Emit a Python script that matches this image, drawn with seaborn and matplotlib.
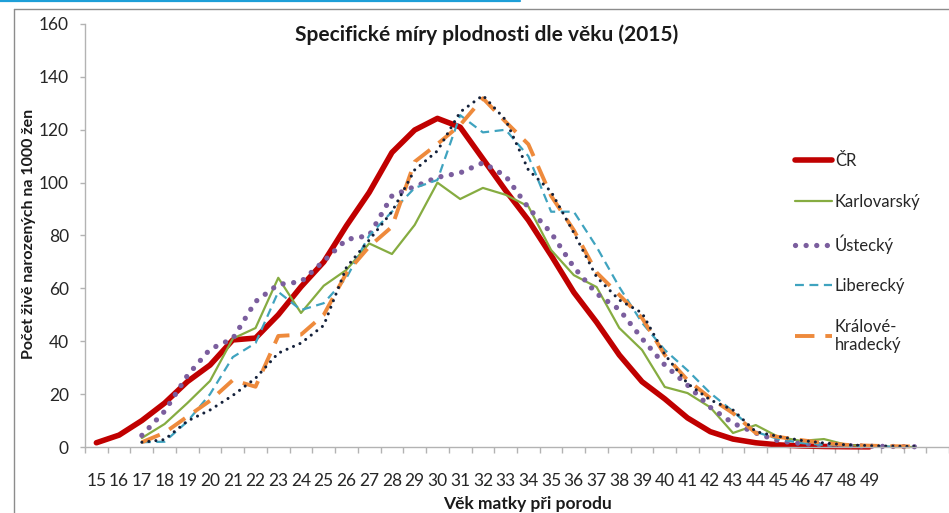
import numpy as np
import pandas as pd
import matplotlib.pyplot as plt
import seaborn as sns

nan = np.nan

# ages 15..51 (50 and 51 have no label on the original axis)
ages = list(range(15, 52))
age_labels = [str(a) for a in range(15, 50)] + ['', '']

cr = [1.6, 4.5, 10, 16.6, 24.7, 31, 40.5, 41.2, 50, 60.6, 70, 83.7, 96.3, 111.4, 119.9,
      124.3, 121, 109, 97, 85.8, 72.5, 58.5, 47.2, 34.8, 24.7, 18.2, 11, 5.8, 3, 1.6,
      0.8, 0.4, 0.2, 0.1, 0.05, nan, nan]
karlovarsky = [nan, nan, 3.4, 8.7, 16.6, 25, 41, 45, 64, 50.7, 61, 67, 77, 73, 84,
               100, 93.8, 98, 95.4, 91, 74.5, 65, 60.5, 45, 36.7, 22.7, 20.4, 15, 5.3, 8.3,
               3.8, 2.3, 3, 0.8, 0.3, 0.1, 0]
ustecky = [nan, nan, 4.4, 13.5, 27, 37, 41, 55, 61.5, 62.5, 70.3, 78.5, 80, 95, 98.5,
           102, 103.7, 107.5, 102.5, 90.5, 81, 68, 58, 52, 41, 31, 23.4, 15, 9, 5.3,
           2.3, 1.3, 0.8, 0.5, 0.3, 0.2, 0.1]
liberecky = [nan, nan, 1.8, 2, 9.6, 20, 34, 39.3, 58.7, 51.8, 54.4, 64, 80, 89, 98,
             101, 125.5, 119, 120, 110, 89, 89, 75.7, 60.5, 47, 36.7, 29, 20.4, 13.5, 5.7,
             3, 1.5, 0.8, 0.4, 0.2, 0.1, 0]
kralovehradecky = [nan, nan, 1.8, 5.4, 11.5, 17.5, 25.3, 22.8, 42, 42.5, 50, 65.8, 75.8, 83.3, 107.9,
                   114.6, 121.8, 131.9, 123, 114.5, 95, 82, 66, 57.5, 48.8, 34.8, 25.3, 18.5, 12.8, 5.3,
                   3.8, 2.6, 1.5, 0.8, 0.5, 0.3, 0.2]
pardubicky = [nan, nan, 1.8, 2.8, 9.8, 14, 19.5, 26, 35.5, 39.3, 46, 68, 78.3, 89, 104.8,
              112, 126.7, 133, 123.7, 104.8, 96.6, 81, 64.3, 55.6, 50.7, 35, 24, 17.8, 14, 5.8,
              4, 2.5, 1.5, 0.8, 0.5, 0.3, 0.2]

series = [
    ('ČR', cr, dict(color='#C00000', lw=4.0, ls='-')),
    ('Karlovarský', karlovarsky, dict(color='#86AC41', lw=1.6, ls='-')),
    ('Ústecký', ustecky, dict(color='#7B5E9E', lw=3.8, ls=(0, (0.01, 2.0)),
                              dash_capstyle='round')),
    ('Liberecký', liberecky, dict(color='#3FA3BF', lw=1.6, ls=(0, (4, 2.5)))),
    ('Králové-\nhradecký', kralovehradecky, dict(color='#EE8A3C', lw=2.8, ls=(0, (5, 2.8)))),
    ('Pardubický', pardubicky, dict(color='#13203A', lw=2.2, ls=(0, (0.01, 2.3)),
                                    dash_capstyle='round')),
]

sns.set_theme(style='white')
plt.rcParams['font.family'] = ['Lato', 'DejaVu Sans']

W, H = 949, 513
fig = plt.figure(figsize=(W / 100, H / 100), dpi=100)

# plot area in pixels: left 85, top 24 (=160), bottom 447 (=0), runs past the right edge
step = 23.45
left, top, bottom = 85, 24, 447
ax = fig.add_axes([left / W, 1 - bottom / H, (W - left) / W, (bottom - top) / H])

idx = np.arange(len(ages))
for name, vals, style in series:
    df = pd.DataFrame({'x': idx, 'y': vals}).dropna()
    sns.lineplot(data=df, x='x', y='y', ax=ax, label=name, clip_on=False,
                 solid_capstyle='round', **style)

ax.set_xlim(-0.5, -0.5 + (W - left) / step)
ax.set_ylim(0, 160)
ax.set_yticks(range(0, 161, 20))

ax.set_xticks(range(len(age_labels)))
ax.set_xticklabels(age_labels)
ax.set_xticks(np.arange(-0.5, len(ages) + 0.6, 1), minor=True)

grey = '#B3B3B3'
for s in ['top', 'right']:
    ax.spines[s].set_visible(False)
for s in ['left', 'bottom']:
    ax.spines[s].set_color(grey)
    ax.spines[s].set_linewidth(1.0)

ax.tick_params(axis='y', which='major', left=True, length=3.6, width=1, color=grey,
               labelsize=12.5, labelcolor='#262626', pad=8)
ax.tick_params(axis='x', which='major', bottom=True, length=0, labelsize=12.5,
               labelcolor='#262626', pad=19)
ax.tick_params(axis='x', which='minor', bottom=True, length=4.3, width=1, color=grey)

ax.set_xlabel('Věk matky při porodu', fontsize=12.5, fontweight='bold', color='#1a1a1a')
ax.xaxis.set_label_coords((527 - left) / (W - left), -(496 - bottom) / (bottom - top))
ax.set_ylabel('Počet živě narozených na 1000 žen', fontsize=11.5, fontweight='bold',
              color='#1a1a1a')
ax.yaxis.set_label_coords(-(85 - 36) / (W - left), (bottom - 234) / (bottom - top))

fig.text(487 / W, 1 - 35 / H, 'Specifické míry plodnosti dle věku (2015)',
         ha='center', va='center', fontsize=15, fontweight='bold', color='#1a1a1a')

handles, labels = ax.get_legend_handles_labels()
ax.legend(handles[:5], labels[:5], loc='upper left',
          bbox_to_anchor=(795 / W, 1 - 153 / H), bbox_transform=fig.transFigure,
          frameon=False, fontsize=12, handlelength=2.2, handletextpad=0.2,
          labelspacing=1.47, borderpad=0, borderaxespad=0, labelcolor='#262626')

# chart frame and slide accent line
fig.add_artist(plt.Line2D([14 / W, 14 / W], [0, 1 - 9 / H], transform=fig.transFigure,
                          color='#8C8C8C', lw=1))
fig.add_artist(plt.Line2D([14 / W, 1], [1 - 9 / H, 1 - 9 / H], transform=fig.transFigure,
                          color='#8C8C8C', lw=1))
fig.add_artist(plt.Line2D([0, 520 / W], [1 - 1 / H, 1 - 1 / H], transform=fig.transFigure,
                          color='#1E9FD8', lw=1.6))

fig.savefig('out.png', dpi=100)
